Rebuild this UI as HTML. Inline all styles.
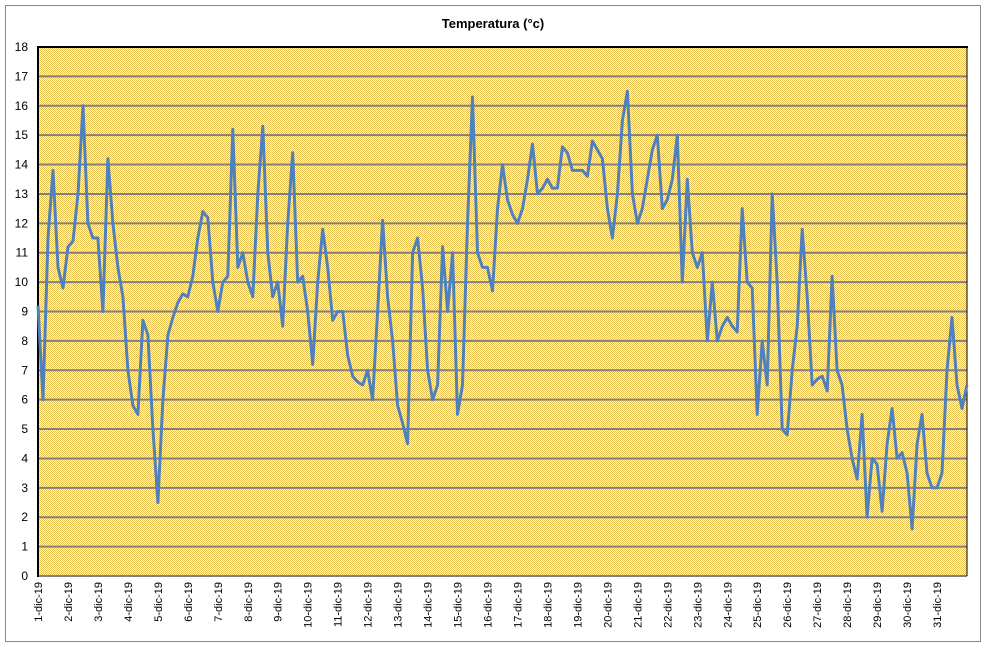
<!DOCTYPE html>
<html><head><meta charset="utf-8"><style>
body{margin:0;background:#fff;}
svg{display:block;font-family:"Liberation Sans",sans-serif;}
</style></head><body>
<svg id="c" width="986" height="647">
<defs>
<pattern id="hatch" width="2" height="2" patternUnits="userSpaceOnUse">
<rect width="2" height="2" fill="#fffbe8"/>
<rect width="1" height="1" fill="#e8c050"/>
<rect x="1" y="1" width="1" height="1" fill="#e8c050"/>
</pattern>
</defs>
<rect x="5.5" y="5.5" width="975" height="636" fill="#fff" stroke="#888"/>
<text x="493" y="28" text-anchor="middle" font-size="13" font-weight="bold">Temperatura (°c)</text>
<g id="plot"></g>
</svg>
<script>
const days = [];
for (let d = 1; d <= 31; d++) days.push(d + "-dic-19");
const yTicks = [0,1,2,3,4,5,6,7,8,9,10,11,12,13,14,15,16,17,18];
// temperature samples every 4 hours (6 per day) + final point
const temps = [
9.2,6,11.5,13.8,10.5,9.8,
11.2,11.4,13,16,12,11.5,
11.5,9,14.2,12,10.5,9.5,
7,5.8,5.5,8.7,8.2,5,
2.5,6,8.2,8.8,9.3,9.6,
9.5,10.2,11.5,12.4,12.2,10,
9,10,10.2,15.2,10.5,11,
10,9.5,13,15.3,11,9.5,
10,8.5,12,14.4,10,10.2,
9,7.2,10,11.8,10.5,8.7,
9,9,7.5,6.8,6.6,6.5,
7,6,9,12.1,9.5,8,
5.8,5.2,4.5,11,11.5,9.8,
7,6,6.5,11.2,9,11,
5.5,6.5,12,16.3,11,10.5,
10.5,9.7,12.5,14,12.8,12.3,
12,12.5,13.5,14.7,13,13.2,
13.5,13.2,13.2,14.6,14.4,13.8,
13.8,13.8,13.6,14.8,14.5,14.2,
12.5,11.5,13,15.5,16.5,13,
12,12.5,13.5,14.5,15,12.5,
12.8,13.5,15,10,13.5,11,
10.5,11,8,10,8,8.5,
8.8,8.5,8.3,12.5,10,9.8,
5.5,8,6.5,13,10,5,
4.8,7,8.5,11.8,9.5,6.5,
6.7,6.8,6.3,10.2,7,6.5,
5,4,3.3,5.5,2,4,
3.8,2.2,4.5,5.7,4,4.2,
3.5,1.6,4.5,5.5,3.5,3,
3,3.5,7,8.8,6.5,5.7,
6.5
];
const L=38,T=47,R=967,B=576,YMAX=18;
const xs = t => L + t/(6*31)*(R-L);
const ys = v => B - v/YMAX*(B-T);
const NS="http://www.w3.org/2000/svg";
const g=document.getElementById('plot');
function mk(tag,attrs,parent){const e=document.createElementNS(NS,tag);for(const k in attrs)e.setAttribute(k,attrs[k]);(parent||g).appendChild(e);return e;}
const bg=mk('rect',{x:L,y:T,width:R-L,height:B-T,fill:'url(#hatch)'});


yTicks.forEach(v=>{
  if(v>0&&v<YMAX){const ln=mk('line',{x1:L,x2:R,y1:ys(v),y2:ys(v),stroke:'#808080','stroke-width':2});
  
  }
  const t=mk('text',{x:L-10,y:ys(v)+4,'text-anchor':'end','font-size':12});
  t.textContent=v;
  
  
});
mk('line',{x1:L,x2:R,y1:B,y2:B,stroke:'#808080','stroke-width':2});
mk('line',{x1:L,x2:L,y1:T-1,y2:B+1,stroke:'#000','stroke-width':2});
mk('line',{x1:L-1,x2:R+1,y1:T,y2:T,stroke:'#000','stroke-width':2});
mk('line',{x1:R,x2:R,y1:T,y2:B,stroke:'#000','stroke-width':1});
days.forEach((d,i)=>{
  const x=xs(i*6);
  const t=mk('text',{x:0,y:0,'text-anchor':'end','font-size':11,transform:`translate(${x+4},${B+6}) rotate(-90)`});
  t.textContent=d;
  
  
});
const pts=temps.map((v,i)=>xs(i).toFixed(1)+','+ys(v).toFixed(1)).join(' ');
const pl=mk('polyline',{points:pts,fill:'none',stroke:'#4f81bd','stroke-width':3,'stroke-linejoin':'round'});


</script>
</body></html>
